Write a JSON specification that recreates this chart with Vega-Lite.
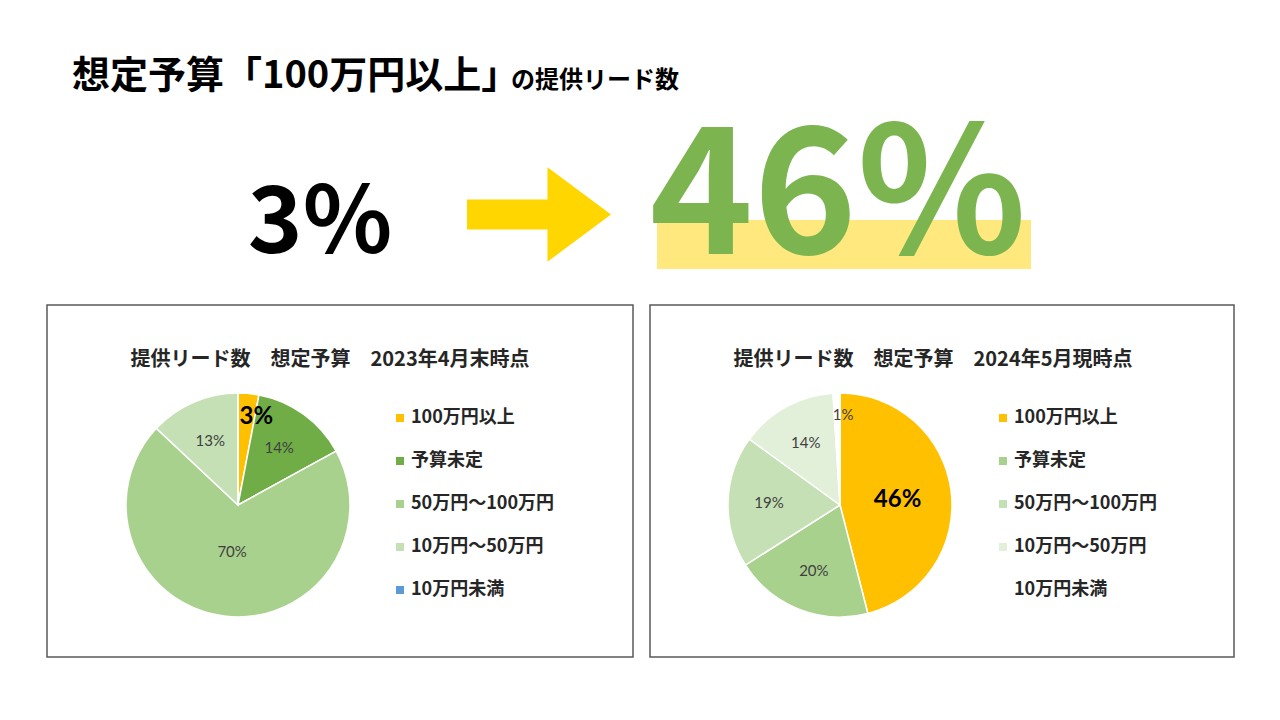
{
  "$schema": "https://vega.github.io/schema/vega-lite/v6.json",
  "width": 1280,
  "height": 720,
  "autosize": "none",
  "padding": 0,
  "background": "white",
  "config": {"view": {"stroke": "#595959", "strokeWidth": 3}},
  "resolve": {"scale": {"color": "independent", "theta": "independent"}, "legend": {"color": "independent"}},
  "layer": [
    {
      "data": {"values": [{"panel": "2023年4月末"}]},
      "mark": {"type": "rect", "x": 47, "y": 305, "x2": 633, "y2": 657, "fill": "white", "stroke": "#595959", "strokeWidth": 1.5},
      "encoding": {}
    },
    {
      "data": {"values": [{"panel": "2024年5月"}]},
      "mark": {"type": "rect", "x": 650, "y": 305, "x2": 1234, "y2": 657, "fill": "white", "stroke": "#595959", "strokeWidth": 1.5},
      "encoding": {}
    },
    {
      "data": {"values": [{"t": "想定予算「100万円以上」"}]},
      "mark": {"type": "text", "x": 72, "y": 88, "align": "left", "baseline": "alphabetic", "font": "Noto Sans CJK JP", "fontSize": 38, "fontWeight": "bold", "color": "#000000"},
      "encoding": {"text": {"field": "t"}}
    },
    {
      "data": {"values": [{"t": "の提供リード数"}]},
      "mark": {"type": "text", "x": 511, "y": 88, "align": "left", "baseline": "alphabetic", "font": "Noto Sans CJK JP", "fontSize": 24, "fontWeight": "bold", "color": "#000000"},
      "encoding": {"text": {"field": "t"}}
    },
    {
      "data": {"values": [{"t": "highlight"}]},
      "mark": {"type": "rect", "x": 657, "x2": 1031, "y": 220, "y2": 269, "fill": "#FFE97F"},
      "encoding": {}
    },
    {
      "data": {"values": [{"t": "46%"}]},
      "mark": {"type": "text", "x": 838, "y": 254, "align": "center", "baseline": "alphabetic", "font": "Noto Sans CJK JP", "fontSize": 176, "fontWeight": "bold", "color": "#7CB550"},
      "encoding": {"text": {"field": "t"}}
    },
    {
      "data": {"values": [{"t": "3%"}]},
      "mark": {"type": "text", "x": 320, "y": 253, "align": "center", "baseline": "alphabetic", "font": "Noto Sans CJK JP", "fontSize": 93, "fontWeight": "bold", "color": "#000000"},
      "encoding": {"text": {"field": "t"}}
    },
    {
      "data": {"values": [{"t": "arrow"}]},
      "mark": {"type": "point", "x": 539, "y": 214.5, "size": 20736, "filled": true, "opacity": 1, "fill": "#FFD600", "strokeWidth": 0, "shape": "M-1,-0.21L0.118,-0.21L0.118,-0.656L1,0L0.118,0.656L0.118,0.21L-1,0.21Z"},
      "encoding": {}
    },
    {
      "data": {"values": [{"t": "提供リード数　想定予算　2023年4月末時点"}]},
      "mark": {"type": "text", "x": 330, "y": 366, "align": "center", "baseline": "alphabetic", "font": "Noto Sans CJK JP", "fontSize": 20, "fontWeight": "bold", "color": "#262626"},
      "encoding": {"text": {"field": "t"}}
    },
    {
      "data": {"values": [{"t": "提供リード数　想定予算　2024年5月現時点"}]},
      "mark": {"type": "text", "x": 933, "y": 366, "align": "center", "baseline": "alphabetic", "font": "Noto Sans CJK JP", "fontSize": 20, "fontWeight": "bold", "color": "#262626"},
      "encoding": {"text": {"field": "t"}}
    },
    {
      "data": {"name": "pie2023", "values": [
        {"cat": "100万円以上", "v": 0.03, "o": 1},
        {"cat": "予算未定", "v": 0.14, "o": 2},
        {"cat": "50万円～100万円", "v": 0.70, "o": 3},
        {"cat": "10万円～50万円", "v": 0.13, "o": 4},
        {"cat": "10万円未満", "v": 0.0, "o": 5}
      ]},
      "layer": [
        {
          "mark": {"type": "arc", "x": 238, "y": 505, "outerRadius": 112, "stroke": "white", "strokeWidth": 1.5},
          "encoding": {
            "theta": {"field": "v", "type": "quantitative", "stack": true},
            "order": {"field": "o", "type": "quantitative"},
            "color": {
              "field": "cat", "type": "nominal",
              "scale": {"domain": ["100万円以上", "予算未定", "50万円～100万円", "10万円～50万円", "10万円未満"], "range": ["#FFC000", "#70AD47", "#A9D18E", "#C5E0B4", "#5B9BD5"]},
              "legend": {"orient": "none", "legendX": 391, "legendY": 409, "title": null, "symbolType": "square", "symbolSize": 64, "symbolStrokeWidth": 0, "labelFont": "Noto Sans CJK JP", "labelFontSize": 18, "labelFontWeight": "bold", "labelColor": "#262626", "rowPadding": 25, "labelOffset": 2, "padding": 0, "labelLimit": 300}
            }
          }
        },
        {
          "mark": {"type": "text", "x": 238, "y": 505, "radius": 88, "dx": 10, "font": "Lato", "fontSize": 24, "fontWeight": "bold", "color": "#000000"},
          "encoding": {
            "theta": {"field": "v", "type": "quantitative", "stack": true},
            "order": {"field": "o", "type": "quantitative"},
            "text": {"condition": {"test": "datum.o === 1", "field": "v", "format": ".0%"}, "value": ""}
          }
        },
        {
          "mark": {"type": "text", "x": 238, "y": 505, "radius": 70, "font": "Lato", "fontSize": 15, "color": "#404040"},
          "encoding": {
            "theta": {"field": "v", "type": "quantitative", "stack": true},
            "order": {"field": "o", "type": "quantitative"},
            "text": {"condition": {"test": "datum.o === 2 || datum.o === 4", "field": "v", "format": ".0%"}, "value": ""}
          }
        },
        {
          "mark": {"type": "text", "x": 238, "y": 505, "radius": 47, "font": "Lato", "fontSize": 15, "color": "#404040"},
          "encoding": {
            "theta": {"field": "v", "type": "quantitative", "stack": true},
            "order": {"field": "o", "type": "quantitative"},
            "text": {"condition": {"test": "datum.o === 3", "field": "v", "format": ".0%"}, "value": ""}
          }
        }
      ]
    },
    {
      "data": {"name": "pie2024", "values": [
        {"cat": "100万円以上", "v": 0.46, "o": 1},
        {"cat": "予算未定", "v": 0.20, "o": 2},
        {"cat": "50万円～100万円", "v": 0.19, "o": 3},
        {"cat": "10万円～50万円", "v": 0.14, "o": 4},
        {"cat": "10万円未満", "v": 0.01, "o": 5}
      ]},
      "layer": [
        {
          "mark": {"type": "arc", "x": 840, "y": 505, "outerRadius": 112, "stroke": "white", "strokeWidth": 1.5},
          "encoding": {
            "theta": {"field": "v", "type": "quantitative", "stack": true},
            "order": {"field": "o", "type": "quantitative"},
            "color": {
              "field": "cat", "type": "nominal",
              "scale": {"domain": ["100万円以上", "予算未定", "50万円～100万円", "10万円～50万円", "10万円未満"], "range": ["#FFC000", "#A9D18E", "#C5E0B4", "#E2F0D9", "#FFFFFF"]},
              "legend": {"orient": "none", "legendX": 994, "legendY": 409, "title": null, "symbolType": "square", "symbolSize": 64, "symbolStrokeWidth": 0, "labelFont": "Noto Sans CJK JP", "labelFontSize": 18, "labelFontWeight": "bold", "labelColor": "#262626", "rowPadding": 25, "labelOffset": 2, "padding": 0, "labelLimit": 300}
            }
          }
        },
        {
          "mark": {"type": "text", "x": 840, "y": 505, "radius": 58, "dy": 2, "font": "Lato", "fontSize": 24, "fontWeight": "bold", "color": "#000000"},
          "encoding": {
            "theta": {"field": "v", "type": "quantitative", "stack": true},
            "order": {"field": "o", "type": "quantitative"},
            "text": {"condition": {"test": "datum.o === 1", "field": "v", "format": ".0%"}, "value": ""}
          }
        },
        {
          "mark": {"type": "text", "x": 840, "y": 505, "radius": 71, "font": "Lato", "fontSize": 15, "color": "#404040"},
          "encoding": {
            "theta": {"field": "v", "type": "quantitative", "stack": true},
            "order": {"field": "o", "type": "quantitative"},
            "text": {"condition": {"test": "datum.o >= 2 && datum.o <= 4", "field": "v", "format": ".0%"}, "value": ""}
          }
        },
        {
          "mark": {"type": "text", "x": 840, "y": 505, "radius": 92, "dx": 6, "dy": 2, "font": "Lato", "fontSize": 15, "color": "#404040"},
          "encoding": {
            "theta": {"field": "v", "type": "quantitative", "stack": true},
            "order": {"field": "o", "type": "quantitative"},
            "text": {"condition": {"test": "datum.o === 5", "field": "v", "format": ".0%"}, "value": ""}
          }
        }
      ]
    }
  ]
}
